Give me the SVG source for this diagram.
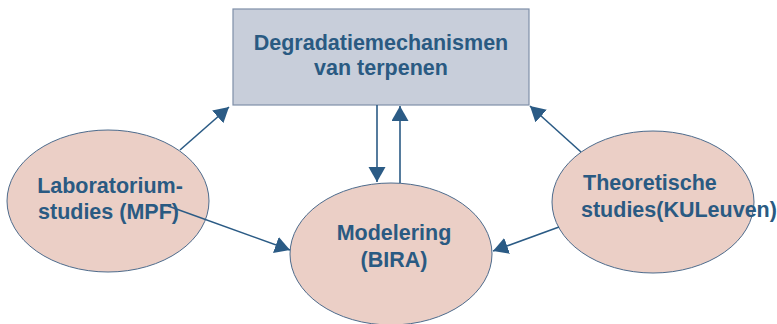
<svg xmlns="http://www.w3.org/2000/svg" width="777" height="324" viewBox="0 0 777 324">
<style>
.rect{fill:#c8ceda;stroke:#7f8fa8;stroke-width:1.2}
.ell{fill:#ebcfc6;stroke:#4d6b8c;stroke-width:1}
.t{font-family:"Liberation Sans",Arial,sans-serif;font-weight:bold;font-size:21.5px;fill:#2a5a82}
.c{stroke:#2b5b85;stroke-width:1.6;fill:none}
</style>
<defs>
<marker id="ah" markerUnits="userSpaceOnUse" markerWidth="16" markerHeight="18" refX="15" refY="8.5" orient="auto">
<path d="M0,0 L15,8.5 L0,17 z" fill="#2b5b85"/>
</marker>
</defs>
<rect width="777" height="324" fill="#ffffff"/>
<g id="degradatie">
<rect class="rect" x="233" y="9" width="296" height="96"/>
<text class="t" x="381" y="50" text-anchor="middle">Degradatiemechanismen</text>
<text class="t" x="381" y="75" text-anchor="middle">van terpenen</text>
</g>
<g id="laboratorium">
<ellipse class="ell" cx="108" cy="201" rx="101" ry="71"/>
<text class="t" x="110" y="193" text-anchor="middle">Laboratorium-</text>
<text class="t" x="108.5" y="219" text-anchor="middle">studies (MPF)</text>
</g>
<g id="modelering">
<ellipse class="ell" cx="391" cy="254" rx="101" ry="71"/>
<text class="t" x="394" y="240" text-anchor="middle">Modelering</text>
<text class="t" x="394" y="267" text-anchor="middle">(BIRA)</text>
</g>
<g id="theoretisch">
<ellipse class="ell" cx="653" cy="202" rx="101" ry="71"/>
<text class="t" x="583" y="190">Theoretische</text>
<text class="t" x="581" y="217">studies(KULeuven)</text>
</g>
<g id="connectors">
<line class="c" x1="180" y1="150" x2="229" y2="107" marker-end="url(#ah)"/>
<line class="c" x1="168" y1="206" x2="290" y2="250" marker-end="url(#ah)"/>
<line class="c" x1="377" y1="105" x2="377" y2="182" marker-end="url(#ah)"/>
<line class="c" x1="400" y1="183" x2="400" y2="106" marker-end="url(#ah)"/>
<line class="c" x1="581" y1="152" x2="530" y2="106" marker-end="url(#ah)"/>
<line class="c" x1="559" y1="227" x2="493" y2="251" marker-end="url(#ah)"/>
</g>
</svg>
